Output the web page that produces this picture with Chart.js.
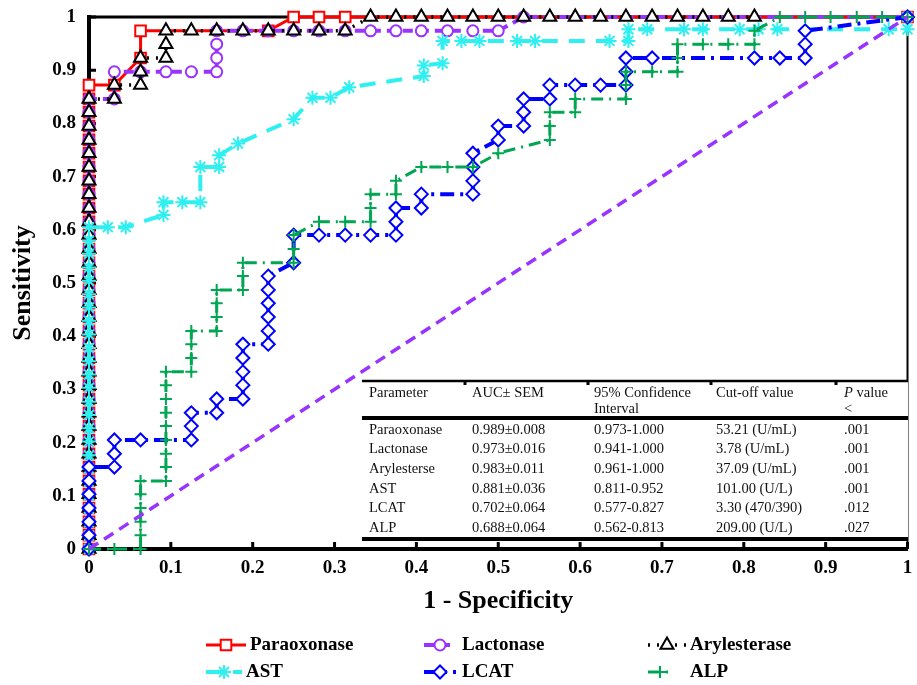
<!DOCTYPE html>
<html>
<head>
<meta charset="utf-8">
<title>ROC curves</title>
<script src="https://cdn.jsdelivr.net/npm/chart.js@4.4.0/dist/chart.umd.min.js"></script>
<style>
    html, body { margin: 0; padding: 0; background: #fff; }
    #wrap { width: 917px; height: 685px; }
</style>
</head>
<body>
<div id="wrap"><canvas id="roc" width="917" height="685"></canvas></div>
<script>
// ROC egri chiziqlari: [1 - spetsifiklik, sezgirlik]
const paraoxonase = [
    [0, 0], [0, 0.026], [0, 0.051], [0, 0.077], [0, 0.103], [0, 0.128], [0, 0.154], [0, 0.179],
    [0, 0.205], [0, 0.231], [0, 0.256], [0, 0.282], [0, 0.308], [0, 0.333], [0, 0.359], [0, 0.385],
    [0, 0.41], [0, 0.436], [0, 0.462], [0, 0.487], [0, 0.513], [0, 0.538], [0, 0.564], [0, 0.59],
    [0, 0.615], [0, 0.641], [0, 0.667], [0, 0.692], [0, 0.718], [0, 0.744], [0, 0.769], [0, 0.795],
    [0, 0.821], [0, 0.846], [0, 0.872],
    [0.031, 0.872], [0.063, 0.923], [0.063, 0.974], [0.219, 0.974], [0.25, 1], [0.281, 1], [0.313, 1], [1, 1]
];
const lactonase = [
    [0, 0], [0, 0.026], [0, 0.051], [0, 0.077], [0, 0.103], [0, 0.128], [0, 0.154], [0, 0.179],
    [0, 0.205], [0, 0.231], [0, 0.256], [0, 0.282], [0, 0.308], [0, 0.333], [0, 0.359], [0, 0.385],
    [0, 0.41], [0, 0.436], [0, 0.462], [0, 0.487], [0, 0.513], [0, 0.538], [0, 0.564], [0, 0.59],
    [0, 0.615], [0, 0.641], [0, 0.667], [0, 0.692], [0, 0.718], [0, 0.744], [0, 0.769], [0, 0.795],
    [0, 0.821], [0, 0.846],
    [0.031, 0.846], [0.031, 0.897], [0.063, 0.897], [0.094, 0.897], [0.125, 0.897], [0.156, 0.897],
    [0.156, 0.923], [0.156, 0.949], [0.156, 0.974], [0.188, 0.974], [0.219, 0.974], [0.25, 0.974],
    [0.281, 0.974], [0.313, 0.974], [0.344, 0.974], [0.375, 0.974], [0.406, 0.974], [0.438, 0.974],
    [0.469, 0.974], [0.5, 0.974], [0.531, 1], [1, 1]
];
const arylesterase = [
    [0, 0], [0, 0.026], [0, 0.051], [0, 0.077], [0, 0.103], [0, 0.128], [0, 0.154], [0, 0.179],
    [0, 0.205], [0, 0.231], [0, 0.256], [0, 0.282], [0, 0.308], [0, 0.333], [0, 0.359], [0, 0.385],
    [0, 0.41], [0, 0.436], [0, 0.462], [0, 0.487], [0, 0.513], [0, 0.538], [0, 0.564], [0, 0.59],
    [0, 0.615], [0, 0.641], [0, 0.667], [0, 0.692], [0, 0.718], [0, 0.744], [0, 0.769], [0, 0.795],
    [0, 0.821], [0, 0.846],
    [0.031, 0.846], [0.031, 0.872], [0.063, 0.872], [0.063, 0.897], [0.063, 0.923], [0.094, 0.923],
    [0.094, 0.949], [0.094, 0.974], [0.125, 0.974], [0.156, 0.974], [0.188, 0.974], [0.219, 0.974],
    [0.25, 0.974], [0.281, 0.974], [0.313, 0.974], [0.344, 1], [0.375, 1], [0.406, 1], [0.438, 1],
    [0.469, 1], [0.5, 1], [0.531, 1], [0.563, 1], [0.594, 1], [0.625, 1], [0.656, 1], [0.688, 1],
    [0.719, 1], [0.75, 1], [0.781, 1], [0.813, 1]
];
const ast = [
    [0, 0], [0, 0.025], [0, 0.05], [0, 0.076], [0, 0.101], [0, 0.126], [0, 0.151], [0, 0.176],
    [0, 0.202], [0, 0.227], [0, 0.252], [0, 0.277], [0, 0.303], [0, 0.328], [0, 0.353], [0, 0.378],
    [0, 0.403], [0, 0.429], [0, 0.454], [0, 0.479], [0, 0.504], [0, 0.529], [0, 0.555], [0, 0.58],
    [0, 0.605],
    [0.023, 0.605], [0.045, 0.605], [0.091, 0.628], [0.091, 0.652], [0.114, 0.652], [0.136, 0.652],
    [0.136, 0.718], [0.159, 0.718], [0.159, 0.74], [0.182, 0.762], [0.25, 0.808], [0.273, 0.848],
    [0.295, 0.848], [0.318, 0.868], [0.409, 0.889], [0.409, 0.909], [0.432, 0.913], [0.432, 0.955],
    [0.455, 0.955], [0.477, 0.955], [0.523, 0.955], [0.545, 0.955], [0.636, 0.955], [0.659, 0.955],
    [0.659, 0.977], [0.682, 0.977], [0.727, 0.977], [0.75, 0.977], [0.795, 0.977], [0.818, 0.977],
    [0.841, 0.977], [0.977, 0.977], [1, 0.977], [1, 1]
];
const lcat = [
    [0, 0], [0, 0.026], [0, 0.051], [0, 0.077], [0, 0.103], [0, 0.128], [0, 0.154],
    [0.031, 0.154], [0.031, 0.179], [0.031, 0.205], [0.063, 0.205], [0.125, 0.205], [0.125, 0.231],
    [0.125, 0.256], [0.156, 0.256], [0.156, 0.282], [0.188, 0.282], [0.188, 0.308], [0.188, 0.333],
    [0.188, 0.359], [0.188, 0.385], [0.219, 0.385], [0.219, 0.41], [0.219, 0.436], [0.219, 0.462],
    [0.219, 0.487], [0.219, 0.513], [0.25, 0.538], [0.25, 0.59], [0.281, 0.59], [0.313, 0.59],
    [0.344, 0.59], [0.375, 0.59], [0.375, 0.615], [0.375, 0.641], [0.406, 0.641], [0.406, 0.667],
    [0.469, 0.667], [0.469, 0.692], [0.469, 0.718], [0.469, 0.744], [0.5, 0.769], [0.5, 0.795],
    [0.531, 0.795], [0.531, 0.821], [0.531, 0.846], [0.563, 0.846], [0.563, 0.872], [0.594, 0.872],
    [0.625, 0.872], [0.656, 0.872], [0.656, 0.897], [0.656, 0.923], [0.688, 0.923], [0.813, 0.923],
    [0.844, 0.923], [0.875, 0.923], [0.875, 0.949], [0.875, 0.974], [1, 1]
];
const alp = [
    [0, 0], [0.031, 0], [0.063, 0], [0.063, 0.026], [0.063, 0.051], [0.063, 0.077], [0.063, 0.103],
    [0.063, 0.128], [0.094, 0.128], [0.094, 0.154], [0.094, 0.179], [0.094, 0.205], [0.094, 0.231],
    [0.094, 0.256], [0.094, 0.282], [0.094, 0.308], [0.094, 0.333], [0.125, 0.333], [0.125, 0.359],
    [0.125, 0.385], [0.125, 0.41], [0.156, 0.41], [0.156, 0.436], [0.156, 0.462], [0.156, 0.487],
    [0.188, 0.487], [0.188, 0.513], [0.188, 0.538], [0.25, 0.538], [0.25, 0.564], [0.25, 0.59],
    [0.281, 0.615], [0.313, 0.615], [0.344, 0.615], [0.344, 0.641], [0.344, 0.667], [0.375, 0.667],
    [0.375, 0.692], [0.406, 0.718], [0.438, 0.718], [0.469, 0.718], [0.5, 0.744], [0.563, 0.769],
    [0.563, 0.795], [0.563, 0.821], [0.594, 0.821], [0.594, 0.846], [0.656, 0.846], [0.656, 0.872],
    [0.656, 0.897], [0.688, 0.897], [0.719, 0.897], [0.719, 0.923], [0.719, 0.949], [0.75, 0.949],
    [0.781, 0.949], [0.813, 0.949], [0.813, 0.974], [0.844, 1], [0.875, 1], [0.906, 1], [0.938, 1],
    [0.969, 1], [1, 1]
];
const reference = [[0, 0], [1, 1]];

const xTickLabels = ['0', '0.1', '0.2', '0.3', '0.4', '0.5', '0.6', '0.7', '0.8', '0.9', '1'];
const yTickLabels = ['0', '0.1', '0.2', '0.3', '0.4', '0.5', '0.6', '0.7', '0.8', '0.9', '1'];

// Jadval matni
const tableHead1 = ['Parameter', 'AUC\u00b1 SEM', '95% Confidence', 'Cut-off value', 'P value'];
const tableHead2 = ['', '', 'Interval', '', '<'];
const tableRows = [
    ['Paraoxonase', '0.989\u00b10.008', '0.973-1.000', '53.21 (U/mL)', '.001'],
    ['Lactonase', '0.973\u00b10.016', '0.941-1.000', '3.78 (U/mL)', '.001'],
    ['Arylesterse', '0.983\u00b10.011', '0.961-1.000', '37.09 (U/mL)', '.001'],
    ['AST', '0.881\u00b10.036', '0.811-0.952', '101.00 (U/L)', '.001'],
    ['LCAT', '0.702\u00b10.064', '0.577-0.827', '3.30 (470/390)', '.012'],
    ['ALP', '0.688\u00b10.064', '0.562-0.813', '209.00 (U/L)', '.027']
];

const serif = "'Liberation Serif', 'Times New Roman', serif";
const toPoints = arr => arr.map(p => ({ x: p[0], y: p[1] }));

function series(label, pts, color, style, radius, dash, width, order) {
    return {
        label: label,
        data: toPoints(pts),
        showLine: true,
        borderColor: color,
        borderWidth: width,
        borderDash: dash,
        pointStyle: style,
        pointRadius: radius,
        pointBorderWidth: 2,
        pointBorderColor: color,
        pointBackgroundColor: '#fff',
        order: order,
        clip: false
    };
}

const datasets = [
    series('Paraoxonase', paraoxonase, '#ff0000', 'rect', 7.5, [], 3, 6),
    series('Lactonase', lactonase, '#9933ff', 'circle', 5.5, [10, 6], 4, 5),
    series('Arylesterase', arylesterase, '#000000', 'triangle', 7.5, [2, 7], 3.5, 4),
    series('AST', ast, '#2ef0f0', 'star', 7, [16, 11], 4, 3),
    series('LCAT', lcat, '#0000ff', 'rectRot', 6.5, [14, 6, 3, 6], 4, 2),
    series('ALP', alp, '#00a651', 'cross', 6, [12, 6, 2, 6], 3, 1)
];
datasets.push({
    label: 'ref',
    data: toPoints(reference),
    showLine: true,
    borderColor: '#9933ff',
    borderWidth: 3.5,
    borderDash: [11, 7],
    pointRadius: 0,
    order: 0,
    clip: false
});

function marker(ctx, style, radius, x, y) {
    if (Chart.helpers && Chart.helpers.drawPoint) {
        Chart.helpers.drawPoint(ctx, { pointStyle: style, radius: radius, rotation: 0, borderWidth: 2 }, x, y);
    }
}

// Ramka, jadval va legenda chizish
const extras = {
    id: 'extras',
    beforeDatasetsDraw(chart) {
        const { ctx, chartArea: a, scales } = chart;
        ctx.save();
        ctx.strokeStyle = '#000';
        ctx.lineWidth = 3;
        ctx.beginPath();
        ctx.moveTo(a.left, a.top);
        ctx.lineTo(a.right, a.top);
        ctx.stroke();
        ctx.lineWidth = 2;
        ctx.beginPath();
        ctx.moveTo(a.right, a.top);
        ctx.lineTo(a.right, a.bottom);
        ctx.stroke();
        ctx.lineWidth = 3;
        ctx.beginPath();
        xTickLabels.forEach(t => {
            const px = scales.x.getPixelForValue(Number(t));
            ctx.moveTo(px, a.bottom);
            ctx.lineTo(px, a.bottom - 7);
        });
        yTickLabels.forEach(t => {
            const py = scales.y.getPixelForValue(Number(t));
            ctx.moveTo(a.left, py);
            ctx.lineTo(a.left + 7, py);
        });
        ctx.stroke();
        ctx.restore();
    },
    afterDatasetsDraw(chart) {
        const ctx = chart.ctx;
        const left = 362, right = 908;
        const cols = [369, 472, 594, 716, 844];
        ctx.save();
        ctx.fillStyle = '#fff';
        ctx.fillRect(left, 381, right - left, 160);
        ctx.strokeStyle = '#000';
        ctx.lineWidth = 2.5;
        ctx.beginPath();
        ctx.moveTo(left, 381);
        ctx.lineTo(right, 381);
        ctx.stroke();
        ctx.lineWidth = 3;
        ctx.beginPath();
        [465, 588, 711, 836].forEach(px => {
            ctx.moveTo(px, 381);
            ctx.lineTo(px, 385);
        });
        ctx.stroke();
        ctx.lineWidth = 4;
        ctx.beginPath();
        ctx.moveTo(left, 418);
        ctx.lineTo(right, 418);
        ctx.moveTo(left, 539);
        ctx.lineTo(right, 539);
        ctx.stroke();

        ctx.fillStyle = '#111';
        ctx.textBaseline = 'middle';
        ctx.textAlign = 'left';
        ctx.font = '14.5px ' + serif;
        tableHead1.forEach((t, i) => {
            if (i === 4) {
                ctx.font = 'italic 14.5px ' + serif;
                ctx.fillText('P', cols[i], 393);
                const w = ctx.measureText('P').width;
                ctx.font = '14.5px ' + serif;
                ctx.fillText(' value', cols[i] + w, 393);
            } else {
                ctx.fillText(t, cols[i], 393);
            }
        });
        tableHead2.forEach((t, i) => ctx.fillText(t, cols[i], 409));
        tableRows.forEach((row, r) => {
            row.forEach((t, i) => ctx.fillText(t, cols[i], 430 + r * 19.6));
        });
        ctx.restore();
    },
    afterDraw(chart) {
        const ctx = chart.ctx;
        // [belgi boshi, y, belgi uzunligi, matn x]
        const slots = [[206, 645, 40, 250], [424, 645, 32, 462], [648, 645, 38, 690],
                       [206, 672, 36, 246], [424, 672, 32, 462], [648, 672, 24, 690]];
        ctx.save();
        chart.data.datasets.slice(0, 6).forEach((ds, i) => {
            const [sx, sy, len, tx] = slots[i];
            ctx.strokeStyle = ds.borderColor;
            ctx.lineWidth = ds.borderWidth;
            ctx.setLineDash(ds.borderDash);
            ctx.beginPath();
            ctx.moveTo(sx, sy);
            ctx.lineTo(sx + len, sy);
            ctx.stroke();
            ctx.setLineDash([]);
            ctx.fillStyle = '#fff';
            ctx.lineWidth = 2;
            marker(ctx, ds.pointStyle, ds.pointRadius, sx + len / 2, sy);
            ctx.fillStyle = '#000';
            ctx.font = 'bold 19px ' + serif;
            ctx.textBaseline = 'middle';
            ctx.fillText(ds.label, tx, sy);
        });
        ctx.restore();
    }
};

const axisFont = { family: serif, weight: 'bold', size: 19 };
const titleFont = { family: serif, weight: 'bold', size: 26 };

new Chart(document.getElementById('roc'), {
    type: 'scatter',
    data: { datasets: datasets },
    options: {
        responsive: false,
        animation: false,
        events: [],
        layout: { padding: { left: 0, right: 8, top: 17, bottom: 68 } },
        plugins: { legend: { display: false }, tooltip: { enabled: false } },
        scales: {
            x: {
                type: 'linear', min: 0, max: 1,
                afterFit(s) { s.height = 68; s.paddingLeft = 0; s.paddingRight = 0; },
                ticks: {
                    stepSize: 0.1, autoSkip: false, maxRotation: 0, padding: 8, color: '#000',
                    font: axisFont,
                    callback: (v, i) => xTickLabels[i]
                },
                title: { display: true, text: '1 - Specificity', color: '#000', font: titleFont, padding: 0 },
                grid: { drawOnChartArea: false, drawTicks: false },
                border: { width: 4, color: '#000' }
            },
            y: {
                type: 'linear', min: 0, max: 1,
                afterFit(s) { s.width = 89; s.paddingTop = 0; s.paddingBottom = 0; },
                ticks: {
                    stepSize: 0.1, autoSkip: false, padding: 13, color: '#000',
                    font: axisFont,
                    callback: (v, i) => yTickLabels[i]
                },
                title: { display: true, text: 'Sensitivity', color: '#000', font: titleFont, padding: { top: 8, bottom: 0 } },
                grid: { drawOnChartArea: false, drawTicks: false },
                border: { width: 4, color: '#000' }
            }
        }
    },
    plugins: [extras]
});
</script>
</body>
</html>
